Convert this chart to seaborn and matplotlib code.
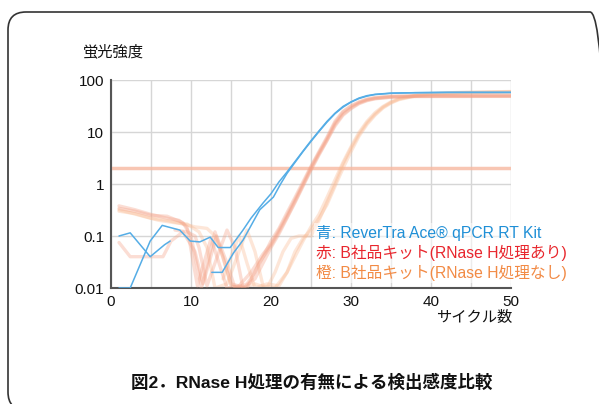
import matplotlib
matplotlib.use('Agg')
import matplotlib.pyplot as plt
import pandas as pd
import seaborn as sns
from matplotlib.patches import FancyBboxPatch

# Data (cycle, fluorescence)
threshold = 2.0

blue_a_x = [1, 2.4, 4.9, 6.4, 8.6, 9.9, 11.1, 12.4, 13.4, 14.9, 16.5, 17.5, 19, 20, 21, 22, 23, 24, 25, 26, 27, 28, 29, 30, 31, 32, 33, 35, 38, 42, 50]
blue_a_y = [0.01, 0.01, 0.08, 0.16, 0.13, 0.08, 0.077, 0.095, 0.06, 0.06, 0.13, 0.22, 0.43, 0.65, 1.1, 1.7, 2.7, 4.3, 6.8, 10.5, 16, 23, 31, 38, 45, 50, 53, 56, 57, 58, 58]
blue_b_x = [12.6, 13.9, 15.3, 16.5, 18.6, 20.3, 21.2, 22, 23, 24, 25, 26, 27, 28, 29, 30, 31, 32, 33, 35, 38, 42, 50]
blue_b_y = [0.02, 0.02, 0.047, 0.083, 0.32, 0.56, 1.0, 1.6, 2.6, 4.2, 6.6, 10.2, 15.5, 22.5, 30, 37.5, 44, 49, 52.5, 55.5, 57, 57.5, 57.5]
blue_c_x = [1, 2.4, 4.9, 6.7, 7.4]
blue_c_y = [0.1, 0.115, 0.04, 0.068, 0.08]

# B kit, RNase H treated
red_1_x = [1, 3, 5, 7, 8.5, 9.5, 10.8, 12.5, 14.5, 16, 17.5, 19, 20, 21, 22, 23, 24, 25, 26, 27, 28, 29, 30, 31, 32, 33, 35, 38, 42, 50]
red_1_y = [0.38, 0.32, 0.26, 0.22, 0.2, 0.15, 0.011, 0.09, 0.01, 0.011, 0.02, 0.045, 0.07, 0.13, 0.25, 0.5, 1.0, 2.1, 4.0, 7.5, 15, 24, 31, 37, 42, 45, 48, 49, 49.5, 49.5]
red_2_x = [1, 3, 5, 7, 9, 10, 11.3, 13, 15, 17, 18.5, 20, 21, 22, 23, 24, 25, 26, 27, 28, 29, 30, 31, 32, 33, 35, 38, 50]
red_2_y = [0.34, 0.3, 0.25, 0.24, 0.18, 0.1, 0.01, 0.12, 0.012, 0.01, 0.03, 0.065, 0.12, 0.23, 0.46, 0.95, 1.95, 3.8, 7.0, 14, 22, 29, 36, 41, 44, 47, 48.5, 49]
red_3_x = [1, 2.4, 4, 6.5, 7.5, 9, 10.5, 11.5, 13.2, 14.5, 15.5, 17, 18, 19, 20, 21, 22, 23, 24, 25, 26, 27, 28, 29, 30, 31, 32, 33, 35, 40, 50]
red_3_y = [0.075, 0.04, 0.04, 0.04, 0.08, 0.12, 0.05, 0.012, 0.1, 0.03, 0.01, 0.012, 0.02, 0.04, 0.08, 0.14, 0.28, 0.55, 1.1, 2.2, 4.2, 8.0, 16, 25, 32, 38, 43, 46, 49, 50, 50.5]
red_4_x = [8, 9.5, 10.5, 11, 12, 13.5, 14.5, 15.5, 16.5, 18, 19, 20, 21, 22, 23, 24, 25, 26, 27, 28, 29, 30, 31, 32, 33, 35, 38, 50]
red_4_y = [0.13, 0.12, 0.1, 0.06, 0.011, 0.05, 0.13, 0.06, 0.01, 0.015, 0.03, 0.06, 0.11, 0.22, 0.44, 0.9, 1.85, 3.6, 6.8, 13, 21, 28, 35, 40, 43.5, 46.5, 48, 48.5]

# B kit, no RNase H
orange_1_x = [1, 3, 5, 7, 9, 10.5, 12, 13, 14, 15, 16.5, 18, 19.5, 20.5, 21.5, 22.5, 23.5, 25, 26, 27, 28, 29, 30, 31, 32, 33, 34, 35, 36, 38, 40, 44, 50]
orange_1_y = [0.3, 0.27, 0.22, 0.2, 0.17, 0.15, 0.14, 0.1, 0.04, 0.011, 0.01, 0.012, 0.01, 0.02, 0.05, 0.09, 0.1, 0.1, 0.2, 0.45, 1.0, 2.4, 4.8, 9.0, 15, 22, 30, 37, 43, 50, 54, 57, 59]
orange_2_x = [1, 4, 6, 8, 9.5, 11, 12, 13, 14.5, 16, 17, 18, 19, 20.5, 22, 23, 24, 25, 26, 27, 28, 29, 30, 31, 32, 33, 34, 35, 36, 38, 40, 44, 50]
orange_2_y = [0.32, 0.24, 0.2, 0.18, 0.17, 0.12, 0.06, 0.01, 0.012, 0.05, 0.13, 0.05, 0.011, 0.01, 0.02, 0.04, 0.08, 0.15, 0.26, 0.55, 1.2, 2.6, 5.2, 9.8, 16, 23.5, 31, 38, 44, 51, 55, 58, 60]
orange_3_x = [14, 15, 16, 17, 18, 19.5, 21, 22, 23, 24, 25, 26, 27, 28, 29, 30, 31, 32, 33, 34, 35, 36, 38, 40, 45, 50]
orange_3_y = [0.015, 0.04, 0.1, 0.03, 0.01, 0.012, 0.011, 0.02, 0.05, 0.09, 0.13, 0.22, 0.4, 0.9, 2.0, 4.2, 8.3, 14, 21, 29, 36, 42, 49, 53, 57, 59]

y_ticks = [0.01, 0.1, 1, 10, 100]
y_labels = ['0.01', '0.1', '1', '10', '100']
x_ticks = [0, 10, 20, 30, 40, 50]

legend_lines = ['青: ReverTra Ace® qPCR RT Kit',
                '赤: B社品キット(RNase H処理あり)',
                '橙: B社品キット(RNase H処理なし)']
legend_colors = ['#1f8fd6', '#e8262c', '#f28a45']


def to_frame(curves):
    rows = []
    for name, (xs, ys) in curves.items():
        for x, y in zip(xs, ys):
            rows.append({'curve': name, 'cycle': x, 'value': y})
    return pd.DataFrame(rows)


blue_df = to_frame({'a': (blue_a_x, blue_a_y), 'b': (blue_b_x, blue_b_y), 'c': (blue_c_x, blue_c_y)})
red_df = to_frame({'1': (red_1_x, red_1_y), '2': (red_2_x, red_2_y),
                   '3': (red_3_x, red_3_y), '4': (red_4_x, red_4_y)})
orange_df = to_frame({'1': (orange_1_x, orange_1_y), '2': (orange_2_x, orange_2_y),
                      '3': (orange_3_x, orange_3_y)})

sns.set_theme(style='white')
plt.rcParams['font.family'] = ['Liberation Sans', 'Noto Sans CJK JP']

fig = plt.figure(figsize=(5.99, 4.04), dpi=100)
ax = fig.add_axes([111 / 599, 1 - 288 / 404, 400 / 599, 208 / 404])
ax.set_yscale('log')

ax.axhline(threshold, color='#f7b8a0', lw=2.5, alpha=0.8, zorder=1)

sns.lineplot(data=orange_df, x='cycle', y='value', units='curve', estimator=None, sort=False,
             color='#fab991', lw=2.4, alpha=0.35, ax=ax, zorder=2)
sns.lineplot(data=red_df, x='cycle', y='value', units='curve', estimator=None, sort=False,
             color='#f4a085', lw=2.4, alpha=0.35, ax=ax, zorder=3)
sns.lineplot(data=blue_df, x='cycle', y='value', units='curve', estimator=None, sort=False,
             color='#55ade6', lw=1.1, ax=ax, zorder=4)

ax.set_xlim(0, 50)
ax.set_ylim(0.01, 100)
ax.set_yticks(y_ticks, y_labels)
ax.set_xticks(x_ticks)
ax.minorticks_off()
ax.set_xticks(range(0, 51, 5), minor=True)
ax.grid(True, which='both', axis='x', color='#d6d6d6', lw=1)
ax.grid(True, which='major', axis='y', color='#d6d6d6', lw=1)
ax.tick_params(which='both', length=0, labelsize=11, colors='#111111', pad=5)
ax.set_xlabel('')
ax.set_ylabel('')
for side in ['top', 'right']:
    ax.spines[side].set_visible(False)
for side in ['left', 'bottom']:
    ax.spines[side].set_color('#555555')
    ax.spines[side].set_linewidth(1.5)

for i, (line, col) in enumerate(zip(legend_lines, legend_colors)):
    ax.text(25.6, 0.115 / (2.42 ** i), line, color=col, fontsize=11.3, va='center', ha='left', zorder=6,
            bbox=dict(facecolor='white', alpha=0.55, edgecolor='none', pad=1.5))

fig.text(83 / 599, 1 - 52 / 404, '蛍光強度', fontsize=11, ha='left', va='center', color='#111111')
fig.text(512 / 599, 1 - 318 / 404, 'サイクル数', fontsize=11, ha='right', va='center', color='#111111')
fig.text(312 / 599, 1 - 382 / 404, '図2．RNase H処理の有無による検出感度比較', fontsize=12.6,
         fontweight='bold', ha='center', va='center', color='#111111')

frame = FancyBboxPatch((8 / 599, -6 / 404), 600 / 599, 398 / 404,
                       boxstyle='round,pad=0,rounding_size=0.03', transform=fig.transFigure,
                       facecolor='none', edgecolor='#333333', lw=1.2, mutation_aspect=599 / 404)
fig.patches.append(frame)

fig.savefig('out.png', dpi=100)
